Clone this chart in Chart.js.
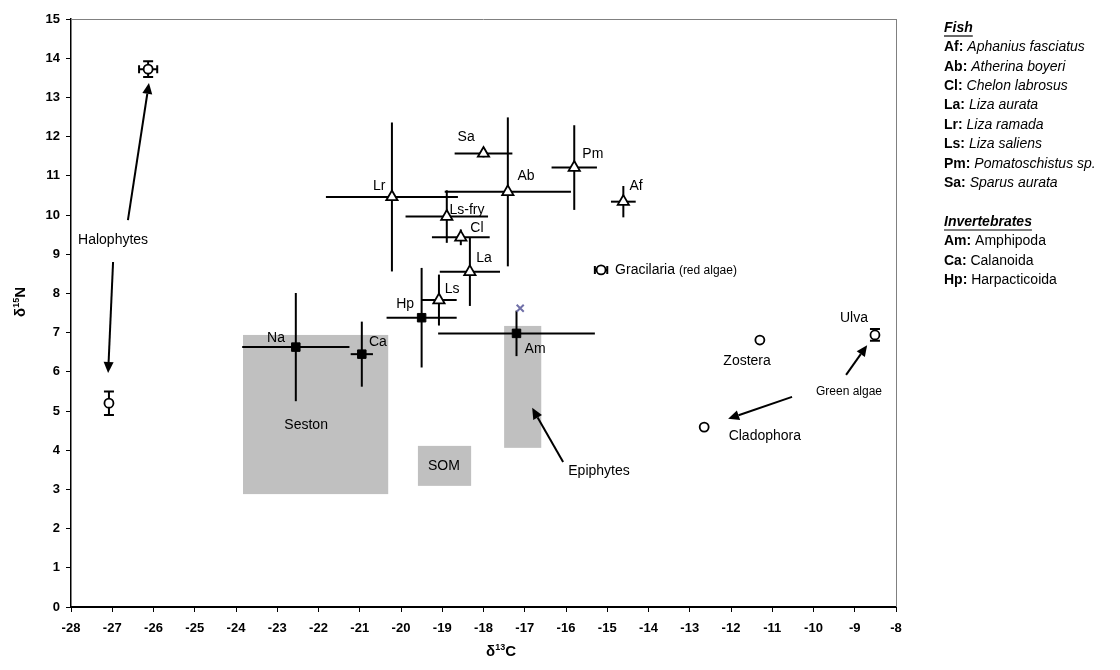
<!DOCTYPE html>
<html>
<head>
<meta charset="utf-8">
<script src="https://cdn.jsdelivr.net/npm/chart.js@4/dist/chart.umd.min.js"></script>
<style>
  body { margin: 0; background: #fff; }
  #wrap { width: 1120px; height: 670px; }
</style>
</head>
<body>
<div id="wrap"><canvas id="isochart" width="1120" height="670"></canvas></div>
<script>
// fish (open triangles)
const fishCodes = ['Lr', 'Sa', 'Ls-fry', 'Cl', 'La', 'Ls', 'Ab', 'Pm', 'Af'];
const fishC = [-20.22, -18.0, -18.89, -18.55, -18.33, -19.08, -17.41, -15.8, -14.61];
const fishN = [10.46, 11.57, 9.96, 9.43, 8.55, 7.83, 10.59, 11.21, 10.34];
const fishCErr = [1.6, 0.7, 1.0, 0.7, 0.73, 0.43, 1.53, 0.55, 0.3];
const fishNErr = [1.9, 0.1, 0.67, 0.2, 0.87, 0.65, 1.9, 1.08, 0.4];

// invertebrates (filled squares)
const invCodes = ['Hp', 'Am', 'Ca', 'Na'];
const invC = [-19.5, -17.2, -20.95, -22.55];
const invN = [7.38, 6.98, 6.45, 6.63];
const invCErr = [0.85, 1.9, 0.27, 1.3];
const invNErr = [1.27, 0.58, 0.83, 1.38];

// primary producers (open circles)
const plantNames = ['Halophytes', 'Halophytes', 'Gracilaria', 'Zostera', 'Cladophora', 'Ulva'];
const plantC = [-26.13, -27.08, -15.15, -11.3, -12.65, -8.51];
const plantN = [13.72, 5.2, 8.6, 6.81, 4.59, 6.94];
const plantCErr = [0.22, 0, 0.15, 0, 0, 0];
const plantNErr = [0.2, 0.3, 0, 0, 0, 0.15];

// single extra Am value (asterisk)
const starC = [-17.11];
const starN = [7.62];

// source ranges drawn as grey boxes
const boxNames = ['Seston', 'SOM', 'Epiphytes'];
const boxCMin = [-23.83, -19.59, -17.5];
const boxCMax = [-20.31, -18.3, -16.6];
const boxNMin = [2.88, 3.09, 4.06];
const boxNMax = [6.94, 4.11, 7.17];

const xTicks = [-28, -27, -26, -25, -24, -23, -22, -21, -20, -19, -18, -17, -16, -15, -14, -13, -12, -11, -10, -9, -8];
const yTicks = [0, 1, 2, 3, 4, 5, 6, 7, 8, 9, 10, 11, 12, 13, 14, 15];

const FONT = '"Liberation Sans", Arial, sans-serif';

// text placed in data units: [text, x, y, size, align]
const notes = [
  ['Lr', -20.53, 10.74, 14, 'center'],
  ['Sa', -18.42, 11.99, 14, 'center'],
  ['Ls-fry', -18.4, 10.13, 14, 'center'],
  ['Cl', -18.16, 9.67, 14, 'center'],
  ['La', -17.99, 8.9, 14, 'center'],
  ['Ls', -18.76, 8.11, 14, 'center'],
  ['Hp', -19.9, 7.73, 14, 'center'],
  ['Am', -16.75, 6.58, 14, 'center'],
  ['Ca', -20.56, 6.76, 14, 'center'],
  ['Na', -23.03, 6.86, 14, 'center'],
  ['Pm', -15.35, 11.56, 14, 'center'],
  ['Af', -14.3, 10.74, 14, 'center'],
  ['Ab', -16.97, 11.0, 14, 'center'],
  ['Zostera', -11.61, 6.28, 14, 'center'],
  ['Cladophora', -11.18, 4.36, 14, 'center'],
  ['Ulva', -9.02, 7.37, 14, 'center'],
  ['Green algae', -9.14, 5.48, 12, 'center'],
  ['Seston', -22.3, 4.64, 14, 'center'],
  ['SOM', -18.96, 3.6, 14, 'center'],
  ['Epiphytes', -15.2, 3.47, 14, 'center'],
  ['Halophytes', -26.98, 9.36, 14, 'center']
];

// arrows: [fromX, fromY, toX, toY]
const arrows = [
  [-26.62, 9.87, -26.11, 13.37],
  [-26.98, 8.8, -27.1, 5.97],
  [-16.07, 3.7, -16.82, 5.08],
  [-9.21, 5.92, -8.7, 6.68],
  [-10.52, 5.36, -12.07, 4.8]
];

const legendLines = [
  ['Fish', null, 'head'],
  ['Af:', 'Aphanius fasciatus', 'i'],
  ['Ab:', 'Atherina boyeri', 'i'],
  ['Cl:', 'Chelon labrosus', 'i'],
  ['La:', 'Liza aurata', 'i'],
  ['Lr:', 'Liza ramada', 'i'],
  ['Ls:', 'Liza saliens', 'i'],
  ['Pm:', 'Pomatoschistus sp.', 'i'],
  ['Sa:', 'Sparus aurata', 'i'],
  null,
  ['Invertebrates', null, 'head'],
  ['Am:', 'Amphipoda', 'n'],
  ['Ca:', 'Calanoida', 'n'],
  ['Hp:', 'Harpacticoida', 'n']
];

function pts(xs, ys) {
  return xs.map((x, i) => ({ x: x, y: ys[i] }));
}

function drawBars(ctx, xs, ys, xe, ye, xScale, yScale, cap) {
  ctx.save();
  ctx.strokeStyle = '#000';
  ctx.lineWidth = 2;
  for (let i = 0; i < xs.length; i++) {
    const px = xScale.getPixelForValue(xs[i]);
    const py = yScale.getPixelForValue(ys[i]);
    if (xe[i] > 0) {
      const l = xScale.getPixelForValue(xs[i] - xe[i]);
      const r = xScale.getPixelForValue(xs[i] + xe[i]);
      ctx.beginPath();
      ctx.moveTo(l, py); ctx.lineTo(r, py);
      if (cap) {
        ctx.moveTo(l, py - 4); ctx.lineTo(l, py + 4);
        ctx.moveTo(r, py - 4); ctx.lineTo(r, py + 4);
      }
      ctx.stroke();
    }
    if (ye[i] > 0) {
      const t = yScale.getPixelForValue(ys[i] + ye[i]);
      const b = yScale.getPixelForValue(ys[i] - ye[i]);
      ctx.beginPath();
      ctx.moveTo(px, t); ctx.lineTo(px, b);
      if (cap) {
        ctx.moveTo(px - 5, t); ctx.lineTo(px + 5, t);
        ctx.moveTo(px - 5, b); ctx.lineTo(px + 5, b);
      }
      ctx.stroke();
    }
  }
  ctx.restore();
}

function arrow(ctx, x1, y1, x2, y2) {
  const a = Math.atan2(y2 - y1, x2 - x1);
  const len = 11, w = 5;
  const bx = x2 - len * Math.cos(a), by = y2 - len * Math.sin(a);
  ctx.beginPath();
  ctx.moveTo(x1, y1); ctx.lineTo(bx, by);
  ctx.stroke();
  ctx.beginPath();
  ctx.moveTo(x2, y2);
  ctx.lineTo(bx + w * Math.sin(a), by - w * Math.cos(a));
  ctx.lineTo(bx - w * Math.sin(a), by + w * Math.cos(a));
  ctx.closePath();
  ctx.fill();
}

// writes base text followed by a raised smaller part and a trailing symbol
function supText(ctx, x, y, pre, sup, post) {
  ctx.font = 'bold 15px ' + FONT;
  const w1 = ctx.measureText(pre).width;
  ctx.font = 'bold 9px ' + FONT;
  const w2 = ctx.measureText(sup).width;
  ctx.font = 'bold 15px ' + FONT;
  const w3 = ctx.measureText(post).width;
  const sx = x - (w1 + w2 + w3) / 2;
  ctx.fillText(pre, sx, y);
  ctx.font = 'bold 9px ' + FONT;
  ctx.fillText(sup, sx + w1, y - 6);
  ctx.font = 'bold 15px ' + FONT;
  ctx.fillText(post, sx + w1 + w2, y);
}

const decor = {
  id: 'decor',
  beforeDatasetsDraw(chart) {
    const ctx = chart.ctx;
    const xs = chart.scales.x, ys = chart.scales.y;
    ctx.save();
    ctx.fillStyle = '#c0c0c0';
    for (let i = 0; i < boxNames.length; i++) {
      const l = xs.getPixelForValue(boxCMin[i]);
      const r = xs.getPixelForValue(boxCMax[i]);
      const t = ys.getPixelForValue(boxNMax[i]);
      const b = ys.getPixelForValue(boxNMin[i]);
      ctx.fillRect(l, t, r - l, b - t);
    }
    ctx.restore();
    drawBars(ctx, fishC, fishN, fishCErr, fishNErr, xs, ys, false);
    drawBars(ctx, invC, invN, invCErr, invNErr, xs, ys, false);
    drawBars(ctx, plantC, plantN, plantCErr, plantNErr, xs, ys, true);
  },
  afterDatasetsDraw(chart) {
    const ctx = chart.ctx;
    const xs = chart.scales.x, ys = chart.scales.y;
    const a = chart.chartArea;
    ctx.save();
    // frame on top and right
    ctx.strokeStyle = '#808080';
    ctx.lineWidth = 1;
    ctx.beginPath();
    ctx.moveTo(a.left, a.top + 0.5); ctx.lineTo(a.right, a.top + 0.5);
    ctx.moveTo(a.right + 0.5, a.top); ctx.lineTo(a.right + 0.5, a.bottom);
    ctx.stroke();

    // notes
    ctx.fillStyle = '#000';
    ctx.textBaseline = 'middle';
    notes.forEach(n => {
      ctx.font = n[3] + 'px ' + FONT;
      ctx.textAlign = n[4];
      ctx.fillText(n[0], xs.getPixelForValue(n[1]), ys.getPixelForValue(n[2]));
    });
    // Gracilaria with smaller qualifier
    ctx.textAlign = 'left';
    ctx.font = '14px ' + FONT;
    const gx = xs.getPixelForValue(-14.81), gy = ys.getPixelForValue(8.6);
    ctx.fillText('Gracilaria', gx, gy);
    const gw = ctx.measureText('Gracilaria ').width;
    ctx.font = '12px ' + FONT;
    ctx.fillText('(red algae)', gx + gw, gy + 1);

    // arrows
    ctx.strokeStyle = '#000';
    ctx.fillStyle = '#000';
    ctx.lineWidth = 2;
    arrows.forEach(r => arrow(ctx,
      xs.getPixelForValue(r[0]), ys.getPixelForValue(r[1]),
      xs.getPixelForValue(r[2]), ys.getPixelForValue(r[3])));

    // axis titles with superscripts
    ctx.textBaseline = 'alphabetic';
    ctx.textAlign = 'left';
    supText(ctx, 501, 656, '\u03b4', '13', 'C');
    ctx.translate(25, 302);
    ctx.rotate(-Math.PI / 2);
    supText(ctx, 0, 0, '\u03b4', '15', 'N');
    ctx.restore();

    // species key on the right
    ctx.save();
    ctx.fillStyle = '#000';
    ctx.strokeStyle = '#000';
    ctx.textBaseline = 'middle';
    ctx.textAlign = 'left';
    const lx = 944;
    let ly = 28;
    legendLines.forEach(line => {
      if (line) {
        if (line[2] === 'head') {
          ctx.font = 'italic bold 14px ' + FONT;
          ctx.fillText(line[0], lx, ly);
          const w = ctx.measureText(line[0]).width;
          ctx.lineWidth = 1.2;
          ctx.beginPath();
          ctx.moveTo(lx, ly + 8); ctx.lineTo(lx + w, ly + 8);
          ctx.stroke();
        } else {
          ctx.font = 'bold 14px ' + FONT;
          ctx.fillText(line[0], lx, ly);
          const w = ctx.measureText(line[0] + ' ').width;
          ctx.font = (line[2] === 'i' ? 'italic ' : '') + '14px ' + FONT;
          ctx.fillText(line[1], lx + w, ly);
        }
      }
      ly += 19.4;
    });
    ctx.restore();
  }
};

const config = {
  type: 'scatter',
  data: {
    datasets: [
      {
        label: 'Fish',
        data: pts(fishC, fishN),
        pointStyle: 'triangle',
        pointRadius: 6.5,
        backgroundColor: '#fff',
        borderColor: '#000',
        borderWidth: 1.8
      },
      {
        label: 'Invertebrates',
        data: pts(invC, invN),
        pointStyle: 'rect',
        pointRadius: 6,
        backgroundColor: '#000',
        borderColor: '#000',
        borderWidth: 1
      },
      {
        label: 'Producers',
        data: pts(plantC, plantN),
        pointStyle: 'circle',
        pointRadius: 4.5,
        backgroundColor: '#fff',
        borderColor: '#000',
        borderWidth: 1.8
      },
      {
        label: 'Am single',
        data: pts(starC, starN),
        pointStyle: 'crossRot',
        pointRadius: 5,
        backgroundColor: '#7070a8',
        borderColor: '#7070a8',
        borderWidth: 2
      }
    ]
  },
  options: {
    responsive: false,
    animation: false,
    layout: { padding: { top: 19, right: 224, left: 0, bottom: 0 } },
    plugins: {
      legend: { display: false },
      tooltip: { enabled: false }
    },
    scales: {
      x: {
        type: 'linear',
        min: -28,
        max: -8,
        afterBuildTicks: s => { s.ticks = xTicks.map(v => ({ value: v })); },
        afterFit: s => { s.height = 63; },
        ticks: {
          color: '#000',
          padding: 9,
          maxRotation: 0,
          autoSkip: false,
          font: { family: FONT, size: 13, weight: 'bold' }
        },
        grid: { drawOnChartArea: false, color: '#000', tickLength: 5 },
        border: { color: '#000', width: 2 }
      },
      y: {
        type: 'linear',
        min: 0,
        max: 15,
        afterBuildTicks: s => { s.ticks = yTicks.map(v => ({ value: v })); },
        afterFit: s => { s.width = 71; },
        ticks: {
          color: '#000',
          padding: 6,
          autoSkip: false,
          font: { family: FONT, size: 13, weight: 'bold' }
        },
        grid: { drawOnChartArea: false, color: '#000', tickLength: 5 },
        border: { color: '#000', width: 1.5 }
      }
    }
  },
  plugins: [decor]
};

const ctx = document.getElementById('isochart').getContext('2d');
const chart = new Chart(ctx, config);
</script>
</body>
</html>
